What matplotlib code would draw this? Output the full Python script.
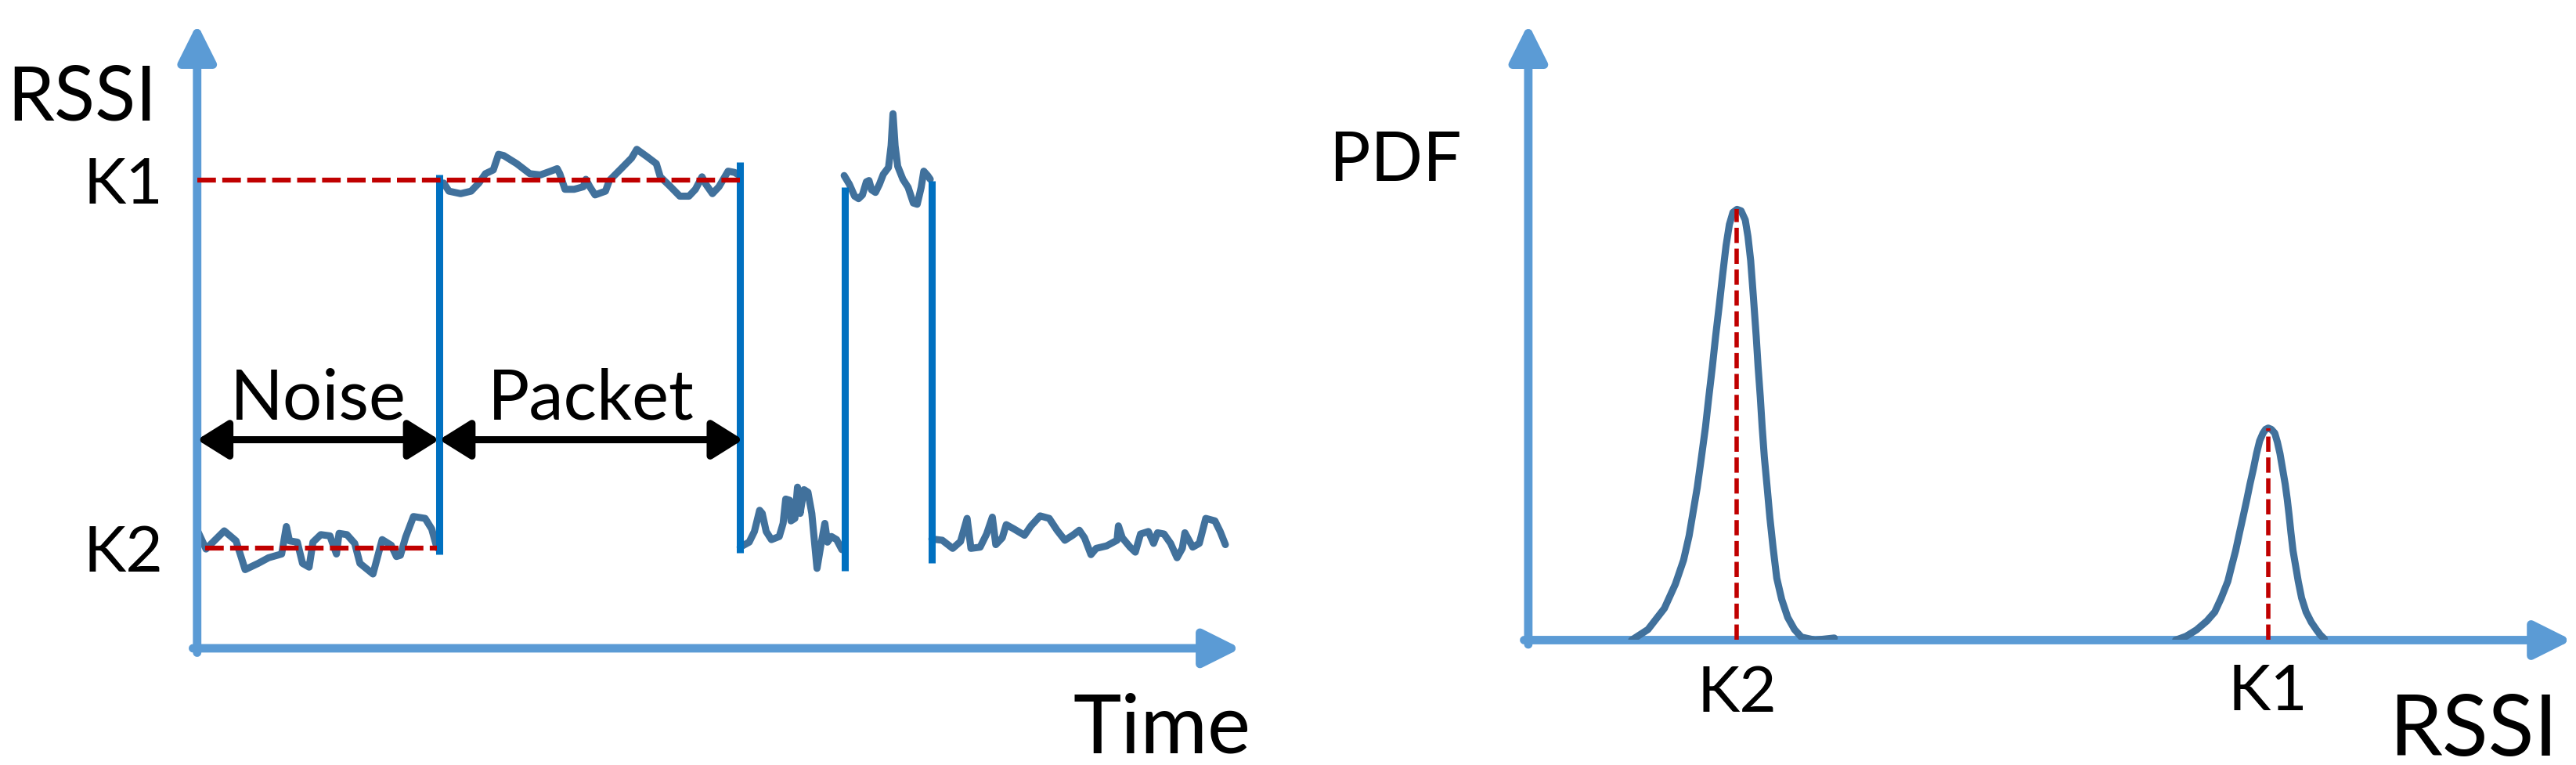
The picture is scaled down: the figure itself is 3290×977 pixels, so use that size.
import matplotlib.pyplot as plt

plt.rcParams['font.family'] = ['Lato', 'DejaVu Sans']

# ---- left panel: RSSI over time ----
k1_level = 75
k2_level = 16

noise1_t = [0.1, 0.85, 2.6, 3.73, 4.6, 5.85, 6.85, 8.1, 8.55, 8.85, 9.6, 10.1, 10.73, 11.1,
            11.85, 12.73, 13.35, 13.6, 14.35, 15.1, 15.6, 16.85, 17.73, 18.6, 19.1, 19.48,
            19.98, 20.73, 21.85, 22.48, 22.98]
noise1_r = [18.6, 15.9, 18.8, 17.2, 12.6, 13.6, 14.5, 15.1, 19.5, 17.2, 17.0, 13.6, 13.0, 17.0,
            18.2, 18.0, 15.1, 18.4, 18.2, 16.8, 13.6, 11.9, 17.4, 16.5, 14.7, 14.9,
            17.8, 21.1, 20.8, 19.1, 16.1]

packet1_t = [23.63, 24.13, 25.25, 26.25, 27.0, 27.63, 28.38, 28.88, 29.38, 30.63, 31.88, 32.88,
             33.88, 34.5, 34.75, 35.25, 36.13, 37.0, 37.25, 37.63, 38.13, 39.13, 39.5, 40.63,
             41.63, 42.13, 43.13, 44.0, 44.38, 45.25, 46.25, 47.13, 47.75, 48.38, 48.75,
             49.38, 50.0, 50.88, 51.5, 51.88]
packet1_r = [74.5, 73.2, 72.8, 73.2, 74.5, 76.0, 76.6, 79.1, 78.9, 77.6, 76.0, 75.8,
             76.4, 76.8, 76.0, 73.5, 73.5, 73.9, 75.1, 73.9, 72.6, 73.2, 74.9, 76.8,
             78.5, 79.9, 78.7, 77.6, 75.5, 74.1, 72.4, 72.4, 73.5, 75.5, 74.3,
             72.8, 73.9, 76.4, 76.2, 75.8]

noise2_t = [52.03, 52.9, 53.4, 53.9, 54.15, 54.53, 55.03, 55.78, 56.15, 56.4, 56.78, 56.9,
            57.28, 57.53, 57.78, 58.15, 58.53, 58.9, 59.4, 59.78, 60.15, 60.4, 60.78,
            61.28, 61.78]
noise2_r = [16.2, 17.0, 18.7, 22.1, 21.6, 18.7, 17.4, 17.9, 20.0, 23.9, 23.7, 20.4,
            20.8, 25.8, 21.6, 25.4, 25.0, 21.6, 12.8, 16.6, 20.0, 17.0, 17.9,
            17.4, 15.8]

packet2_t = [62.0, 62.5, 63.0, 63.38, 63.75, 64.13, 64.38, 64.63, 65.0, 65.38, 65.75, 66.25,
             66.5, 66.68, 66.88, 67.13, 67.63, 68.13, 68.63, 69.0, 69.38, 69.63, 70.0, 70.25]
packet2_r = [75.7, 74.3, 72.4, 72.0, 72.6, 74.7, 74.9, 73.4, 73.0, 74.3, 75.9, 77.0,
             80.5, 85.6, 80.5, 77.2, 75.1, 73.8, 71.3, 71.1, 73.8, 76.4, 75.7, 75.1]

noise3_t = [70.4, 71.4, 72.4, 73.15, 73.78, 74.15, 75.03, 75.65, 76.2, 76.53, 77.15, 77.53,
            78.28, 79.28, 79.9, 80.78, 81.65, 82.4, 83.15, 83.9, 84.53, 85.03, 85.65,
            86.15, 87.15, 88.15, 88.28, 88.65, 89.4, 89.9, 90.4, 91.15, 91.65, 92.03,
            92.65, 93.28, 93.9, 94.4, 94.65, 95.4, 96.03, 96.65, 97.53, 98.03, 98.53]
noise3_r = [17.5, 17.3, 16.0, 17.1, 20.8, 16.0, 16.2, 18.3, 21.0, 16.6, 17.7, 19.8,
            19.1, 18.1, 19.6, 21.2, 20.8, 18.9, 17.3, 18.1, 18.9, 17.7, 15.0,
            16.0, 16.4, 17.3, 19.6, 17.7, 16.2, 15.4, 18.3, 18.7, 16.8, 18.5,
            18.3, 16.8, 14.5, 16.0, 18.5, 16.2, 16.8, 20.8, 20.4, 18.7, 16.6]

edge_t = [23.2, 52.0, 62.1, 70.4]
edge_lo = [15.0, 15.3, 12.4, 13.7]
edge_hi = [75.8, 77.8, 73.9, 74.9]

noise_span = [0, 23.2]
packet_span = [23.2, 52.3]
k1_line_span = [0, 52.0]
k2_line_span = [0.8, 23.0]

# ---- right panel: PDF of RSSI ----
k2_pos, k2_peak = 20.0, 69.9
k1_pos, k1_peak = 70.9, 34.4
pdf_k2_x = [9.9, 11.47, 13.04, 14.09, 14.88, 15.41, 15.80, 16.19, 16.59, 16.98, 17.30, 17.64,
            17.95, 18.29, 18.61, 18.95, 19.27, 19.61, 20.0, 20.39, 20.79, 21.05, 21.31, 21.57,
            21.84, 22.02, 22.23, 22.41, 22.62, 22.89, 23.15, 23.46, 23.81, 24.28, 24.86,
            25.51, 26.17, 27.48, 29.32]
pdf_k2_y = [0, 1.72, 5.15, 9.07, 12.99, 16.92, 20.84, 24.77, 29.67, 34.58, 39.48, 44.39,
            49.29, 54.20, 59.10, 64.01, 67.45, 69.41, 69.9, 69.66, 68.19, 65.49, 61.57, 55.68,
            49.29, 44.39, 39.48, 34.58, 29.67, 24.77, 19.86, 14.96, 10.05, 6.62, 3.68,
            1.72, 0.49, 0, 0.34]
pdf_k1_x = [62.03, 63.03, 64.03, 65.03, 65.78, 66.4, 67.03, 67.4, 67.78, 68.15, 68.53, 68.85,
            69.15, 69.48, 69.78, 70.08, 70.4, 70.65, 70.9, 71.2, 71.53, 71.78, 72.03, 72.28,
            72.53, 72.73, 72.9, 73.08, 73.28, 73.53, 73.78, 74.1, 74.53, 75.03, 75.53,
            75.9, 76.28]
pdf_k1_y = [0, 0.62, 1.66, 3.11, 4.56, 6.84, 9.53, 12.02, 14.51, 17.41, 20.31, 22.80,
            25.29, 27.77, 30.26, 32.33, 33.58, 34.20, 34.41, 34.20, 33.58, 32.13, 30.26, 27.77,
            25.29, 22.80, 20.31, 17.41, 14.51, 12.02, 9.53, 6.84, 4.56, 2.90, 1.66,
            0.83, 0.21]

axis_blue = '#5B9BD5'
trace_blue = '#41719C'
edge_blue = '#0070C0'
red = '#C00000'

fig = plt.figure(figsize=(32.91, 9.78), dpi=100)
ax1 = fig.add_axes([0.0765, 0.1524, 0.405, 0.8155])
ax2 = fig.add_axes([0.5931, 0.1631, 0.405, 0.8047])

for ax in (ax1, ax2):
    ax.set_xlim(0, 100)
    ax.set_ylim(0, 100)
    ax.axis('off')
    ax_arrow = dict(arrowstyle='-|>,head_length=0.9,head_width=0.45', color=axis_blue,
                    lw=7.8, mutation_scale=32, shrinkA=0, shrinkB=0)
    ax.annotate('', xy=(0, 1), xytext=(0, -0.007), xycoords='axes fraction', arrowprops=ax_arrow)
    ax.annotate('', xy=(1, 0), xytext=(-0.004, 0), xycoords='axes fraction', arrowprops=ax_arrow)

# left panel
ax1.plot(k1_line_span, [k1_level, k1_level], color=red, lw=4.5, dashes=(3.8, 1.3), zorder=3)
ax1.plot(k2_line_span, [k2_level, k2_level], color=red, lw=4.5, dashes=(3.8, 1.3), zorder=3)
for t, r in [(noise1_t, noise1_r), (packet1_t, packet1_r), (noise2_t, noise2_r),
             (packet2_t, packet2_r), (noise3_t, noise3_r)]:
    ax1.plot(t, r, color=trace_blue, lw=6.5, solid_joinstyle='round', solid_capstyle='round',
             zorder=2, clip_on=False)
ax1.vlines(edge_t, edge_lo, edge_hi, color=edge_blue, lw=6.5, zorder=2)

span_arrow = dict(arrowstyle='<|-|>,head_length=0.8,head_width=0.5', color='black',
                  lw=6.5, mutation_scale=30, shrinkA=0, shrinkB=0)
ax1.annotate('', xy=(noise_span[1], 33.4), xytext=(noise_span[0], 33.4), arrowprops=span_arrow)
ax1.annotate('', xy=(packet_span[1], 33.4), xytext=(packet_span[0], 33.4), arrowprops=span_arrow)
ax1.text(sum(noise_span) / 2, 36.8, 'Noise', fontsize=64, ha='center', va='baseline')
ax1.text(sum(packet_span) / 2, 36.8, 'Packet', fontsize=64, ha='center', va='baseline')
ax1.text(-7.1, 71.3, 'K1', fontsize=59, ha='center', va='baseline', clip_on=False)
ax1.text(-7.1, 12.4, 'K2', fontsize=59, ha='center', va='baseline', clip_on=False)

# right panel
ax2.plot(pdf_k2_x, pdf_k2_y, color=trace_blue, lw=6.5, solid_joinstyle='round',
         solid_capstyle='round', zorder=3)
ax2.plot(pdf_k1_x, pdf_k1_y, color=trace_blue, lw=6.5, solid_joinstyle='round',
         solid_capstyle='round', zorder=3)
ax2.plot([k2_pos, k2_pos], [0, k2_peak], color=red, lw=4, dashes=(3.5, 1.3), zorder=4)
ax2.plot([k1_pos, k1_pos], [0, k1_peak], color=red, lw=4, dashes=(3.5, 1.3), zorder=4)
ax2.text(k2_pos, -11.5, 'K2', fontsize=59, ha='center', va='baseline', clip_on=False)
ax2.text(k1_pos, -11.2, 'K1', fontsize=59, ha='center', va='baseline', clip_on=False)

fig.text(0.0319, 0.843, 'RSSI', fontsize=69, ha='center', va='baseline')
fig.text(0.4509, 0.0172, 'Time', fontsize=75, ha='center', va='baseline')
fig.text(849 / 1568, 1 - 110 / 466, 'PDF', fontsize=63, ha='center', va='baseline')
fig.text(1505 / 1568, 0.0129, 'RSSI', fontsize=78, ha='center', va='baseline')

fig.savefig('out.png', dpi=100)
